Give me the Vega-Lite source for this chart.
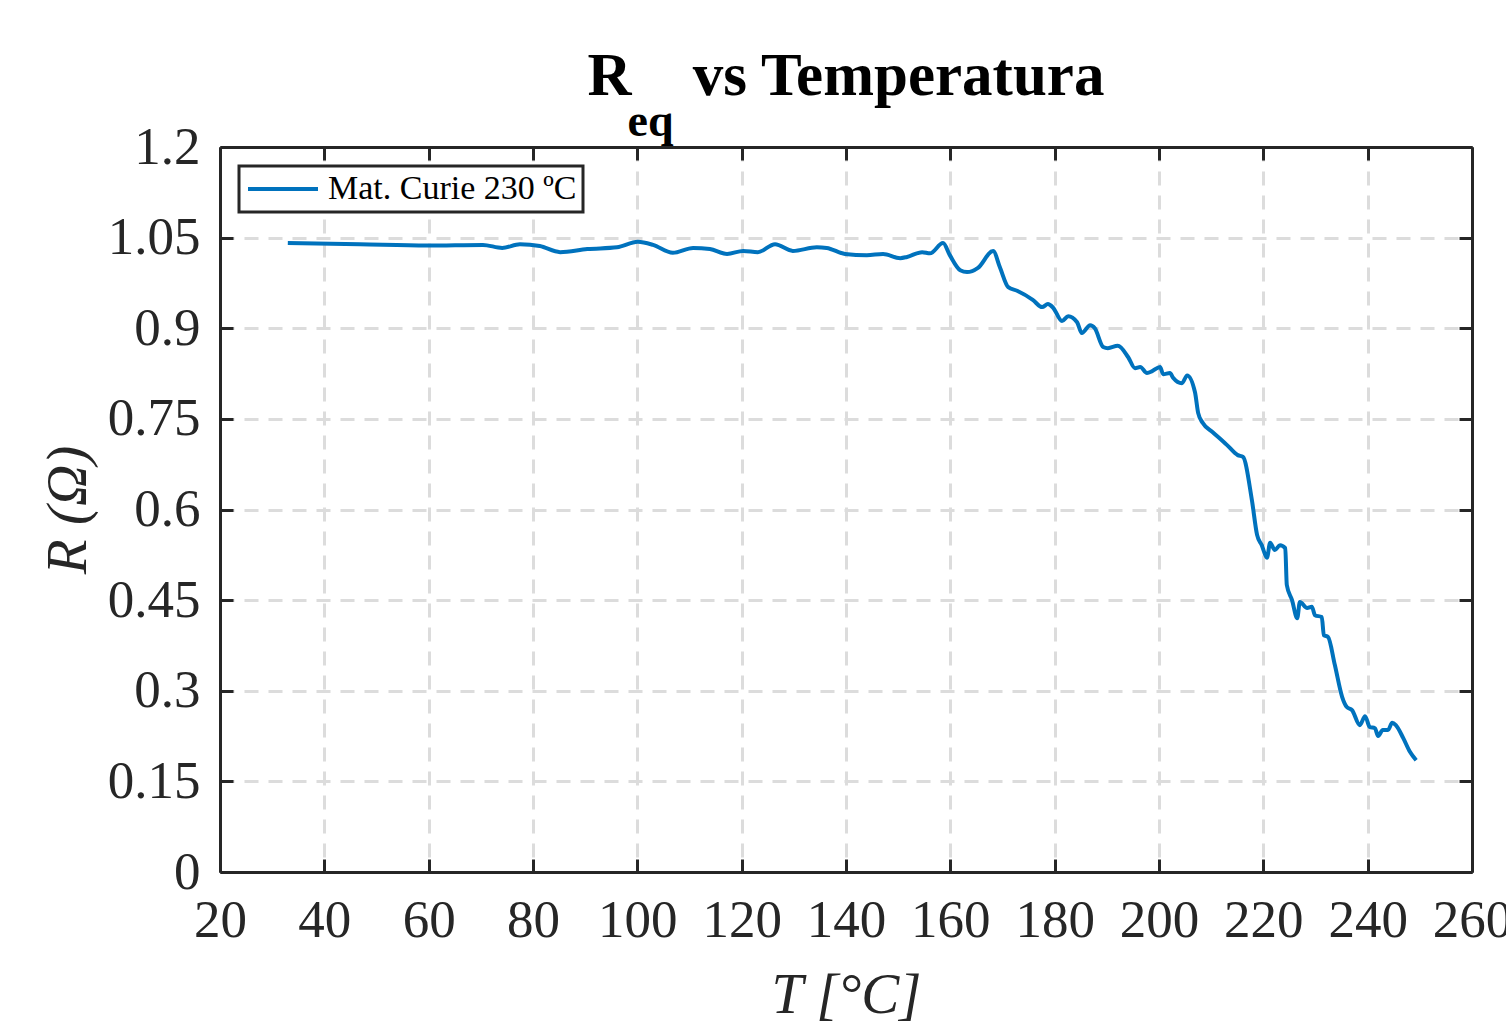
{
  "$schema": "https://vega.github.io/schema/vega-lite/v6.json",
  "width": 1252,
  "height": 725,
  "autosize": {"type": "none"},
  "padding": {"left": 220, "top": 147, "right": 34, "bottom": 156},
  "background": "white",
  "view": {"stroke": null},
  "title": {
    "text": "R\u00a0\u00a0\u00a0\u00a0vs Temperatura",
    "subtitle": "eq\u00a0\u00a0\u00a0\u00a0\u00a0\u00a0\u00a0\u00a0\u00a0\u00a0\u00a0\u00a0\u00a0\u00a0\u00a0\u00a0\u00a0\u00a0\u00a0\u00a0\u00a0\u00a0\u00a0\u00a0\u00a0\u00a0\u00a0\u00a0\u00a0\u00a0\u00a0\u00a0\u00a0\u00a0\u200b",
    "anchor": "middle",
    "frame": "group",
    "font": "Liberation Serif",
    "fontSize": 61,
    "fontWeight": "bold",
    "color": "black",
    "subtitleFont": "Liberation Serif",
    "subtitleFontSize": 46,
    "subtitleFontWeight": "bold",
    "subtitleColor": "black",
    "subtitlePadding": -8,
    "offset": -25
  },
  "datasets": {
    "req": [
      {"T": 33.0, "R": 1.041}, {"T": 46.8, "R": 1.039}, {"T": 59.7, "R": 1.037}, {"T": 70.4, "R": 1.038},
      {"T": 74.1, "R": 1.033}, {"T": 77.5, "R": 1.039}, {"T": 81.3, "R": 1.036}, {"T": 85.2, "R": 1.026},
      {"T": 90.4, "R": 1.031}, {"T": 96.1, "R": 1.034}, {"T": 100.1, "R": 1.043}, {"T": 103.0, "R": 1.038},
      {"T": 106.8, "R": 1.025}, {"T": 110.7, "R": 1.033}, {"T": 113.9, "R": 1.031}, {"T": 117.2, "R": 1.023},
      {"T": 120.3, "R": 1.028}, {"T": 123.1, "R": 1.026}, {"T": 126.4, "R": 1.039}, {"T": 129.8, "R": 1.028},
      {"T": 134.4, "R": 1.034}, {"T": 136.3, "R": 1.033}, {"T": 139.8, "R": 1.023}, {"T": 144.0, "R": 1.021},
      {"T": 147.1, "R": 1.023}, {"T": 150.4, "R": 1.016}, {"T": 151.7, "R": 1.018}, {"T": 154.6, "R": 1.026},
      {"T": 156.1, "R": 1.024}, {"T": 158.6, "R": 1.041}, {"T": 159.9, "R": 1.021}, {"T": 161.9, "R": 0.996},
      {"T": 163.2, "R": 0.993}, {"T": 165.3, "R": 1.000}, {"T": 168.2, "R": 1.028}, {"T": 169.5, "R": 1.001},
      {"T": 171.1, "R": 0.968}, {"T": 172.8, "R": 0.962}, {"T": 175.8, "R": 0.947}, {"T": 177.6, "R": 0.935},
      {"T": 178.7, "R": 0.940}, {"T": 179.7, "R": 0.934}, {"T": 181.4, "R": 0.912}, {"T": 182.6, "R": 0.920},
      {"T": 184.3, "R": 0.910}, {"T": 185.2, "R": 0.892}, {"T": 186.8, "R": 0.905}, {"T": 187.7, "R": 0.900},
      {"T": 189.3, "R": 0.869}, {"T": 190.2, "R": 0.867}, {"T": 192.1, "R": 0.871}, {"T": 194.1, "R": 0.852},
      {"T": 195.4, "R": 0.834}, {"T": 196.4, "R": 0.836}, {"T": 197.7, "R": 0.826}, {"T": 198.7, "R": 0.829},
      {"T": 200.2, "R": 0.836}, {"T": 200.8, "R": 0.824}, {"T": 202.1, "R": 0.826}, {"T": 202.7, "R": 0.818},
      {"T": 204.4, "R": 0.809}, {"T": 205.4, "R": 0.822}, {"T": 206.9, "R": 0.794}, {"T": 207.5, "R": 0.760},
      {"T": 208.4, "R": 0.743}, {"T": 210.3, "R": 0.728}, {"T": 213.0, "R": 0.707}, {"T": 215.1, "R": 0.690},
      {"T": 216.1, "R": 0.687}, {"T": 217.8, "R": 0.616}, {"T": 218.8, "R": 0.558}, {"T": 219.7, "R": 0.541},
      {"T": 220.7, "R": 0.520}, {"T": 221.3, "R": 0.545}, {"T": 222.2, "R": 0.533}, {"T": 223.2, "R": 0.541},
      {"T": 224.2, "R": 0.536}, {"T": 224.5, "R": 0.475}, {"T": 225.5, "R": 0.450}, {"T": 226.5, "R": 0.420},
      {"T": 227.0, "R": 0.447}, {"T": 228.4, "R": 0.437}, {"T": 229.3, "R": 0.439}, {"T": 229.9, "R": 0.425},
      {"T": 231.2, "R": 0.422}, {"T": 231.6, "R": 0.392}, {"T": 232.4, "R": 0.389}, {"T": 233.7, "R": 0.343},
      {"T": 235.1, "R": 0.290}, {"T": 236.0, "R": 0.273}, {"T": 237.0, "R": 0.268}, {"T": 238.5, "R": 0.243},
      {"T": 239.5, "R": 0.258}, {"T": 240.4, "R": 0.240}, {"T": 241.4, "R": 0.238}, {"T": 242.0, "R": 0.225},
      {"T": 242.9, "R": 0.235}, {"T": 243.9, "R": 0.235}, {"T": 244.7, "R": 0.247}, {"T": 245.4, "R": 0.243},
      {"T": 246.8, "R": 0.222}, {"T": 248.1, "R": 0.199}, {"T": 249.3, "R": 0.185}
    ]
  },
  "data": {"name": "req"},
  "config": {
    "axis": {
      "domainColor": "#262626",
      "domainWidth": 3,
      "tickColor": "#262626",
      "tickWidth": 3,
      "tickSize": -13,
      "labelFont": "Liberation Serif",
      "labelFontSize": 53,
      "labelColor": "#262626",
      "titleFont": "Liberation Serif",
      "titleFontSize": 57,
      "titleFontWeight": "normal",
      "titleColor": "#262626",
      "gridColor": "#dcdcdc",
      "gridWidth": 3,
      "gridDash": [14, 10]
    },
    "legend": {
      "labelFont": "Liberation Serif",
      "labelFontSize": 34,
      "labelColor": "black",
      "labelLimit": 0,
      "strokeWidth": 3
    }
  },
  "layer": [
    {
      "mark": {"type": "line", "strokeWidth": 4, "interpolate": "monotone"},
      "encoding": {
        "x": {
          "field": "T", "type": "quantitative",
          "scale": {"domain": [20, 260], "nice": false, "zero": false},
          "axis": {
            "orient": "bottom",
            "values": [20, 40, 60, 80, 100, 120, 140, 160, 180, 200, 220, 240, 260],
            "title": "T [°C]",
            "titleFontStyle": "italic",
            "labelPadding": 35,
            "titlePadding": 20,
            "grid": true,
            "labelFlush": false,
            "labelOverlap": false
          }
        },
        "y": {
          "field": "R", "type": "quantitative",
          "scale": {"domain": [0, 1.2], "nice": false, "zero": false},
          "axis": {
            "orient": "left",
            "values": [0, 0.15, 0.3, 0.45, 0.6, 0.75, 0.9, 1.05, 1.2],
            "labelExpr": "'' + datum.value",
            "title": "R (Ω)",
            "titleFontStyle": "italic",
            "labelPadding": 33,
            "titlePadding": 10,
            "grid": true,
            "labelFlush": false,
            "labelOverlap": false
          }
        },
        "color": {
          "datum": "Mat. Curie 230 ºC",
          "type": "nominal",
          "scale": {"range": ["#0072BD"]},
          "legend": {
            "title": null,
            "orient": "top-left",
            "offset": 19,
            "padding": 6,
            "strokeColor": "#262626",
            "fillColor": "white",
            "symbolType": "M-1,0H4",
            "symbolSize": 784,
            "symbolStrokeWidth": 4,
            "labelOffset": 49
          }
        }
      }
    },
    {
      "mark": {"type": "line", "strokeOpacity": 0},
      "encoding": {
        "x": {
          "field": "T", "type": "quantitative",
          "axis": {
            "orient": "top",
            "values": [20, 40, 60, 80, 100, 120, 140, 160, 180, 200, 220, 240, 260],
            "labels": false, "title": null, "grid": false
          }
        },
        "y": {
          "field": "R", "type": "quantitative",
          "axis": {
            "orient": "right",
            "values": [0, 0.15, 0.3, 0.45, 0.6, 0.75, 0.9, 1.05, 1.2],
            "labels": false, "title": null, "grid": false
          }
        }
      }
    }
  ],
  "resolve": {"axis": {"x": "independent", "y": "independent"}}
}
